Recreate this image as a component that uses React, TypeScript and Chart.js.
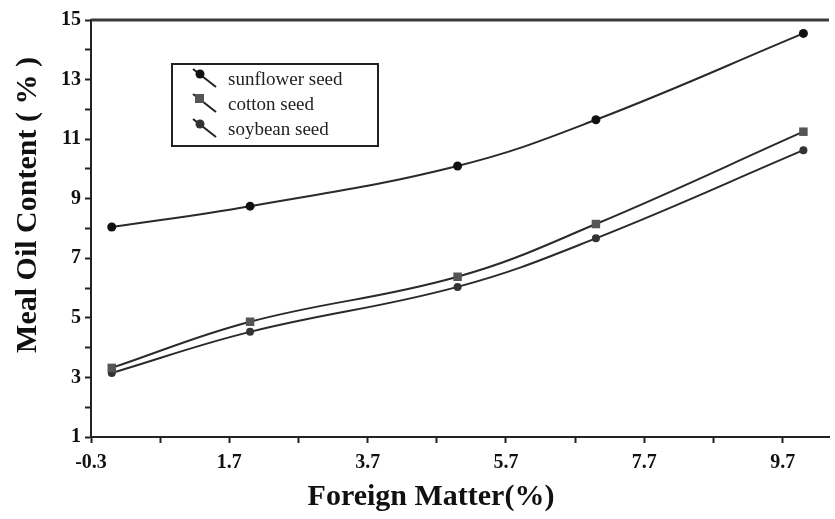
import React, { useEffect, useRef } from "react";
import { Chart, registerables } from "chart.js";

Chart.register(...registerables);

const FOREIGN_MATTER = [0, 2, 5, 7, 10];
const SUNFLOWER = [8.05, 8.75, 10.1, 11.65, 14.55];
const COTTON = [3.32, 4.87, 6.38, 8.15, 11.25];
const SOYBEAN = [3.15, 4.53, 6.04, 7.67, 10.63];

const SERIES_LABELS = ["sunflower seed", "cotton seed", "soybean seed"];
const MAJOR_X_TICKS = [-0.3, 1.7, 3.7, 5.7, 7.7, 9.7];
const MINOR_X_TICKS = [0.7, 2.7, 4.7, 6.7, 8.7];
const MAJOR_Y_TICKS = [1, 3, 5, 7, 9, 11, 13, 15];

const X_TITLE = "Foreign Matter(%)";
const Y_TITLE = "Meal Oil Content ( % )";

const SERIF = '"Liberation Serif", "Times New Roman", serif';

function toPoints(xs: number[], ys: number[]) {
  return xs.map((x, i) => ({ x, y: ys[i] }));
}

const decorPlugin = {
  id: "decor",
  afterDraw(chart: any) {
    const ctx = chart.ctx;
    const ca = chart.chartArea;
    ctx.save();
    // top frame line
    ctx.strokeStyle = "#3a3a3a";
    ctx.lineWidth = 3;
    ctx.beginPath();
    ctx.moveTo(ca.left, ca.top);
    ctx.lineTo(ca.right, ca.top);
    ctx.stroke();

    // axis titles
    ctx.fillStyle = "#111";
    ctx.font = `bold 30px ${SERIF}`;
    ctx.textAlign = "center";
    ctx.textBaseline = "middle";
    ctx.fillText(X_TITLE, 431, 497);
    ctx.save();
    ctx.translate(28, 205);
    ctx.rotate(-Math.PI / 2);
    ctx.fillText(Y_TITLE, 0, 0);
    ctx.restore();

    // legend box
    const bx = 172, by = 64, bw = 206, bh = 82;
    ctx.fillStyle = "#fff";
    ctx.fillRect(bx, by, bw, bh);
    ctx.strokeStyle = "#222";
    ctx.lineWidth = 2;
    ctx.strokeRect(bx, by, bw, bh);
    ctx.font = `19px ${SERIF}`;
    ctx.textAlign = "left";
    ctx.textBaseline = "middle";
    chart.data.datasets.forEach((ds: any, i: number) => {
      const cy = by + 16 + i * 25;
      ctx.strokeStyle = "#222";
      ctx.lineWidth = 2;
      ctx.beginPath();
      ctx.moveTo(193, cy - 11);
      ctx.lineTo(216, cy + 7);
      ctx.stroke();
      ctx.fillStyle = ds.pointBackgroundColor;
      if (ds.pointStyle === "rect") {
        ctx.fillRect(195, cy - 11, 9, 9);
      } else {
        ctx.beginPath();
        ctx.arc(200, cy - 6, 4.5, 0, Math.PI * 2);
        ctx.fill();
      }
      ctx.fillStyle = "#222";
      ctx.fillText(ds.label, 228, cy);
    });
    ctx.restore();
  },
};

export default function App() {
  const ref = useRef<HTMLCanvasElement | null>(null);

  useEffect(() => {
    if (!ref.current) return;
    const lineCommon = {
      borderColor: "#2a2a2a",
      borderWidth: 2,
      tension: 0.4,
      pointRadius: 4.5,
      pointBorderWidth: 0,
      showLine: true,
      clip: false as any,
    };
    const chart = new Chart(ref.current, {
      type: "scatter",
      data: {
        datasets: [
          {
            ...lineCommon,
            label: SERIES_LABELS[0],
            data: toPoints(FOREIGN_MATTER, SUNFLOWER),
            pointStyle: "circle",
            pointBackgroundColor: "#111",
            backgroundColor: "#111",
          },
          {
            ...lineCommon,
            label: SERIES_LABELS[1],
            data: toPoints(FOREIGN_MATTER, COTTON),
            pointStyle: "rect",
            pointRadius: 6,
            pointBackgroundColor: "#555",
            backgroundColor: "#555",
          },
          {
            ...lineCommon,
            label: SERIES_LABELS[2],
            data: toPoints(FOREIGN_MATTER, SOYBEAN),
            pointStyle: "circle",
            pointRadius: 4,
            pointBackgroundColor: "#333",
            backgroundColor: "#333",
          },
        ],
      },
      options: {
        animation: false,
        responsive: false,
        maintainAspectRatio: false,
        layout: { padding: { top: 20, right: 0, left: 0, bottom: 0 } },
        plugins: {
          legend: { display: false },
          tooltip: { enabled: false },
          title: { display: false },
        },
        scales: {
          x: {
            type: "linear",
            min: -0.3,
            max: 10.37,
            afterBuildTicks: (scale: any) => {
              const vals = [...MAJOR_X_TICKS, ...MINOR_X_TICKS].sort((a, b) => a - b);
              scale.ticks = vals.map((v) => ({ value: v }));
            },
            afterFit: (scale: any) => {
              scale.height = 82;
            },
            grid: {
              drawOnChartArea: false,
              drawTicks: true,
              tickLength: 6,
              tickColor: "#222",
              tickWidth: 2,
            },
            border: { display: true, color: "#222", width: 2 },
            ticks: {
              autoSkip: false,
              maxRotation: 0,
              padding: 8,
              color: "#111",
              font: { family: SERIF, size: 20, weight: "bold" },
              callback: (v: any) =>
                MAJOR_X_TICKS.some((m) => Math.abs(m - Number(v)) < 1e-6)
                  ? Number(v).toFixed(1)
                  : "",
            },
          },
          y: {
            type: "linear",
            min: 1,
            max: 15,
            afterFit: (scale: any) => {
              scale.width = 91;
            },
            grid: {
              drawOnChartArea: false,
              drawTicks: true,
              tickLength: 6,
              tickColor: "#222",
              tickWidth: 2,
            },
            border: { display: true, color: "#222", width: 2 },
            ticks: {
              stepSize: 1,
              autoSkip: false,
              padding: 4,
              color: "#111",
              font: { family: SERIF, size: 20, weight: "bold" },
              callback: (v: any) =>
                MAJOR_Y_TICKS.includes(Number(v)) ? String(v) : "",
            },
          },
        },
      },
      plugins: [decorPlugin],
    });
    return () => chart.destroy();
  }, []);

  return (
    <div
      style={{
        position: "fixed",
        left: 0,
        top: 0,
        width: 835,
        height: 519,
        background: "#fff",
      }}
    >
      <canvas ref={ref} width={835} height={519} style={{ width: 835, height: 519 }} />
    </div>
  );
}
